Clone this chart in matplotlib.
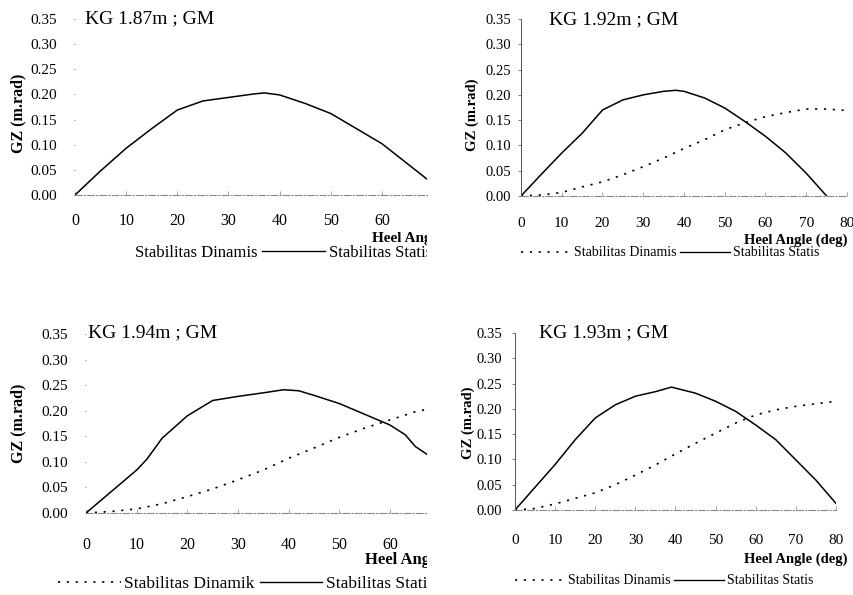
import matplotlib.pyplot as plt
from matplotlib.lines import Line2D
from matplotlib.transforms import Bbox, TransformedBbox

plt.rcParams['font.family'] = ['Liberation Serif', 'DejaVu Serif']

# KG 1.87m (left half of the panel is all that shows)
angle_187 = [0, 5, 10, 15, 20, 25, 30, 35, 37, 40, 45, 50, 55, 60, 65, 70]
static_187 = [0, 0.048, 0.093, 0.132, 0.169, 0.187, 0.194, 0.201, 0.203, 0.199,
              0.182, 0.162, 0.132, 0.102, 0.062, 0.022]

# KG 1.92m
static_angle_192 = [0, 5, 10, 15, 20, 25, 30, 35, 38, 40, 45, 50, 55, 60, 65, 70, 75]
static_192 = [0, 0.043, 0.085, 0.124, 0.170, 0.190, 0.200, 0.207, 0.209, 0.207,
              0.194, 0.174, 0.147, 0.118, 0.085, 0.045, 0.0]
dyn_angle_192 = [0, 5, 10, 15, 20, 25, 30, 35, 40, 45, 50, 55, 60, 65, 70, 75, 80]
dynamic_192 = [0, 0.002, 0.007, 0.018, 0.028, 0.042, 0.058, 0.075, 0.094, 0.111,
               0.131, 0.145, 0.157, 0.165, 0.172, 0.172, 0.169]

# KG 1.94m
static_angle_194 = [0, 5, 10, 12, 15, 20, 25, 30, 35, 39, 42, 45, 50, 55, 60, 63, 65, 68]
static_194 = [0, 0.042, 0.084, 0.105, 0.146, 0.19, 0.22, 0.228, 0.235, 0.241, 0.239,
              0.23, 0.214, 0.193, 0.172, 0.153, 0.13, 0.11]
dyn_angle_194 = [0, 5, 10, 15, 20, 25, 30, 35, 40, 45, 50, 55, 60, 65, 70]
dynamic_194 = [0, 0.003, 0.008, 0.018, 0.032, 0.047, 0.065, 0.084, 0.107, 0.127,
               0.148, 0.166, 0.182, 0.198, 0.208]

# KG 1.93m
static_angle_193 = [0, 5, 10, 15, 20, 25, 30, 35, 39, 45, 50, 55, 60, 65, 70, 75, 80]
static_193 = [0, 0.045, 0.09, 0.139, 0.182, 0.208, 0.225, 0.234, 0.243, 0.231,
              0.215, 0.195, 0.168, 0.139, 0.099, 0.059, 0.013]
dyn_angle_193 = [0, 5, 10, 15, 20, 25, 30, 35, 40, 45, 50, 55, 60, 65, 70, 75, 80]
dynamic_193 = [0, 0.003, 0.012, 0.023, 0.034, 0.05, 0.069, 0.089, 0.111, 0.132,
               0.152, 0.172, 0.188, 0.198, 0.205, 0.21, 0.215]

y_ticks = [0.00, 0.05, 0.10, 0.15, 0.20, 0.25, 0.30, 0.35]
x_ticks = [0, 10, 20, 30, 40, 50, 60, 70, 80]

DOT = (0, (1.3, 4))

fig = plt.figure(figsize=(8.54, 5.95), dpi=100)
left_clip = TransformedBbox(Bbox.from_extents(0, 0, 0.5, 1), fig.transFigure)


def px(x, y):
    return x / 854, 1 - y / 595


def make_axes(rect, xmax, left_side, ypad, xpad, fs):
    ax = fig.add_axes(rect)
    ax.set_xlim(0, xmax)
    ax.set_ylim(0, 0.35)
    ax.set_yticks(y_ticks)
    ax.set_yticklabels(['%.2f' % v for v in y_ticks])
    ax.set_xticks([t for t in x_ticks if t <= xmax])
    for s in ['top', 'right']:
        ax.spines[s].set_visible(False)
    ax.spines['bottom'].set_color('#888888')
    ax.spines['bottom'].set_linestyle((0, (6, 2, 1, 2)))
    ax.spines['bottom'].set_linewidth(0.8)
    if left_side:
        ax.spines['left'].set_visible(False)
        ylen = 1
    else:
        ax.spines['left'].set_color('#555555')
        ax.spines['left'].set_linestyle((0, (3, 1)))
        ax.spines['left'].set_linewidth(0.7)
        ylen = 2
    ax.tick_params(axis='y', length=ylen, width=0.6, color='#666666', pad=ypad, labelsize=fs)
    ax.tick_params(axis='x', direction='in', length=3, width=0.6, color='#999999',
                   pad=xpad, labelsize=fs + 0.5)
    return ax


def add_legend(handles, labels, x, y, fs, hl, clip):
    leg = fig.legend(handles, labels, loc='center left', bbox_to_anchor=px(x, y),
                     ncol=2, frameon=False, fontsize=fs, handlelength=hl,
                     handletextpad=0.2, columnspacing=0.3, borderpad=0, borderaxespad=0)
    if clip:
        for t in leg.get_texts():
            t.set_clip_box(left_clip)
            t.set_clip_on(True)
    return leg


# ---- KG 1.87m ----
x0, y0 = px(75, 195)
x1, y1 = px(427, 19)
ax1 = make_axes([x0, y0, x1 - x0, y1 - y0], 68.8, True, 12, 13, 11)
ax1.plot(angle_187, static_187, color='black', lw=1.1)
fig.text(*px(85, 19), 'KG 1.87m ; GM', fontsize=14, va='center')
fig.text(*px(18, 113), 'GZ (m.rad)', rotation=90, fontsize=11.5, fontweight='bold',
         va='center', ha='center')
t = fig.text(*px(372, 238), 'Heel Angle (deg)', fontsize=11, fontweight='bold', va='center')
t.set_clip_box(left_clip)
t.set_clip_on(True)
add_legend([Line2D([], [], linestyle='none'), Line2D([], [], color='black', lw=1)],
           ['Stabilitas Dinamis', 'Stabilitas Statis'], 68, 253, 12, 3.8, True)

# ---- KG 1.92m ----
x0, y0 = px(521, 196)
x1, y1 = px(847, 19)
ax2 = make_axes([x0, y0, x1 - x0, y1 - y0], 80, False, 5, 15, 10.5)
ax2.plot(dyn_angle_192, dynamic_192, color='black', lw=1.2, linestyle=DOT)
ax2.plot(static_angle_192, static_192, color='black', lw=1.1)
fig.text(*px(549, 20), 'KG 1.92m ; GM', fontsize=14, va='center')
fig.text(*px(472, 115), 'GZ (m.rad)', rotation=90, fontsize=10.5, fontweight='bold',
         va='center', ha='center')
fig.text(*px(848, 240), 'Heel Angle (deg)', fontsize=10.5, fontweight='bold',
         va='center', ha='right')
add_legend([Line2D([], [], color='black', lw=1.2, linestyle=DOT),
            Line2D([], [], color='black', lw=1)],
           ['Stabilitas Dinamis', 'Stabilitas Statis'], 521, 253, 10, 3.6, False)

# ---- KG 1.94m ----
x0, y0 = px(86, 513)
x1, y1 = px(427, 334)
ax3 = make_axes([x0, y0, x1 - x0, y1 - y0], 67.3, True, 12, 17, 11)
ax3.plot(dyn_angle_194, dynamic_194, color='black', lw=1.2, linestyle=DOT)
ax3.plot(static_angle_194, static_194, color='black', lw=1.1)
fig.text(*px(88, 333), 'KG 1.94m ; GM', fontsize=14, va='center')
fig.text(*px(18, 423), 'GZ (m.rad)', rotation=90, fontsize=11.5, fontweight='bold',
         va='center', ha='center')
t = fig.text(*px(365, 560), 'Heel Angle (deg)', fontsize=12, fontweight='bold', va='center')
t.set_clip_box(left_clip)
t.set_clip_on(True)
add_legend([Line2D([], [], color='black', lw=1.2, linestyle=DOT),
            Line2D([], [], color='black', lw=1)],
           ['Stabilitas Dinamik', 'Stabilitas Statis'], 58, 584, 12.5, 3.6, True)

# ---- KG 1.93m ----
x0, y0 = px(515, 510)
x1, y1 = px(836, 333)
ax4 = make_axes([x0, y0, x1 - x0, y1 - y0], 80, False, 7, 17, 10.5)
ax4.plot(dyn_angle_193, dynamic_193, color='black', lw=1.2, linestyle=DOT)
ax4.plot(static_angle_193, static_193, color='black', lw=1.1)
fig.text(*px(539, 333), 'KG 1.93m ; GM', fontsize=14, va='center')
fig.text(*px(468, 423), 'GZ (m.rad)', rotation=90, fontsize=10.5, fontweight='bold',
         va='center', ha='center')
fig.text(*px(848, 559), 'Heel Angle (deg)', fontsize=10.5, fontweight='bold',
         va='center', ha='right')
add_legend([Line2D([], [], color='black', lw=1.2, linestyle=DOT),
            Line2D([], [], color='black', lw=1)],
           ['Stabilitas Dinamis', 'Stabilitas Statis'], 515, 581, 10, 3.6, False)

fig.savefig('out.png', dpi=100)
